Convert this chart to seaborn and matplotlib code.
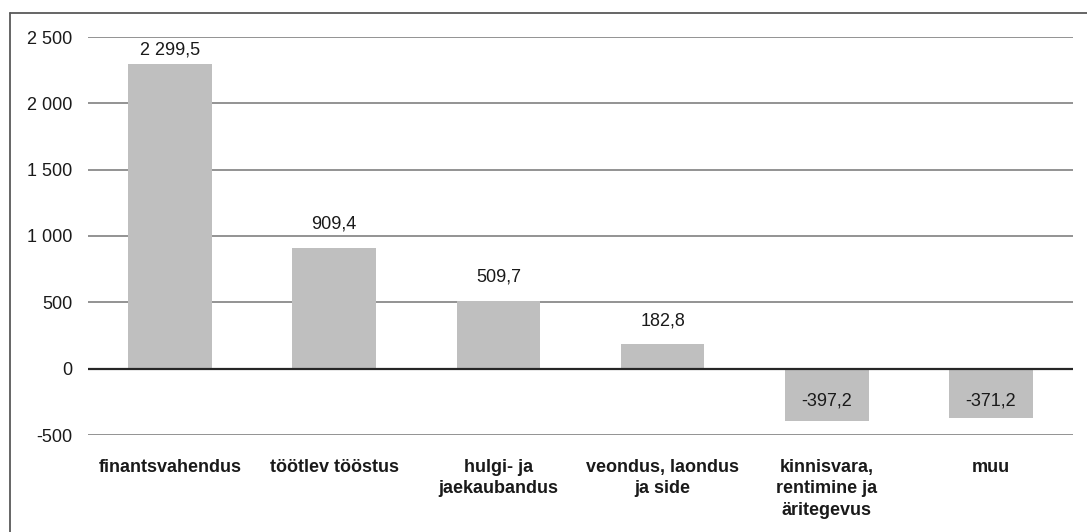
import matplotlib
matplotlib.use("Agg")
import matplotlib.pyplot as plt
import seaborn as sns
import pandas as pd
from matplotlib.lines import Line2D
from matplotlib.ticker import FuncFormatter

categories = ["finantsvahendus", "töötlev tööstus", "hulgi- ja\njaekaubandus",
              "veondus, laondus\nja side", "kinnisvara,\nrentimine ja\näritegevus", "muu"]
values = [2299.5, 909.4, 509.7, 182.8, -397.2, -371.2]
y_ticks = [-500, 0, 500, 1000, 1500, 2000, 2500]

sns.set_theme(style="white")
plt.rcParams["font.family"] = ["Liberation Sans", "DejaVu Sans"]

df = pd.DataFrame({"sektor": categories, "vaartus": values})

fig = plt.figure(figsize=(10.87, 5.32), dpi=100)
ax = fig.add_axes([88 / 1087, 1 - 435 / 532, (1073 - 88) / 1087, (435 - 37) / 532])

sns.barplot(data=df, x="sektor", y="vaartus", color="#bfbfbf", width=0.51,
            saturation=1, linewidth=0, edgecolor="none", ax=ax, zorder=3)

ax.set_ylim(-500, 2500)
ax.set_yticks(y_ticks)
ax.yaxis.set_major_formatter(FuncFormatter(lambda v, p: f"{int(v):,}".replace(",", " ")))
ax.grid(axis="y", color="#808080", linewidth=1.2, zorder=0)
ax.axhline(0, color="#262626", linewidth=1.6, zorder=4)
for s in ax.spines.values():
    s.set_visible(False)
ax.tick_params(axis="y", length=0, pad=11, labelsize=13, labelcolor="#1a1a1a")
ax.tick_params(axis="x", length=0, pad=17, labelsize=13, labelcolor="#1a1a1a")
for lbl in ax.get_xticklabels():
    lbl.set_fontweight("bold")
    lbl.set_linespacing(1.35)
ax.set_xlabel("")
ax.set_ylabel("")

top = ax.get_ylim()[1]
for i, v in enumerate(values):
    txt = f"{v:,.1f}".replace(",", " ").replace(".", ",")
    if v >= 0.85 * top:
        # label pushed inside the plot area when it would not fit above the bar
        ax.annotate(txt, (i, top), xytext=(0, -3), textcoords="offset points",
                    ha="center", va="top", fontsize=13, color="#1a1a1a", zorder=5)
    elif v >= 0:
        ax.annotate(txt, (i, v), xytext=(0, 11), textcoords="offset points",
                    ha="center", va="bottom", fontsize=13, color="#1a1a1a", zorder=5)
    else:
        ax.annotate(txt, (i, 0), xytext=(0, -23), textcoords="offset points",
                    ha="center", va="center", fontsize=13, color="#1a1a1a", zorder=5)

# chart border (left and top edges visible in reference)
fig.add_artist(Line2D([9.5 / 1087, 9.5 / 1087], [0, 1 - 13 / 532], color="#595959", linewidth=1.3))
fig.add_artist(Line2D([9.5 / 1087, 1], [1 - 13 / 532, 1 - 13 / 532], color="#595959", linewidth=1.3))

fig.savefig("out.png", dpi=100)
